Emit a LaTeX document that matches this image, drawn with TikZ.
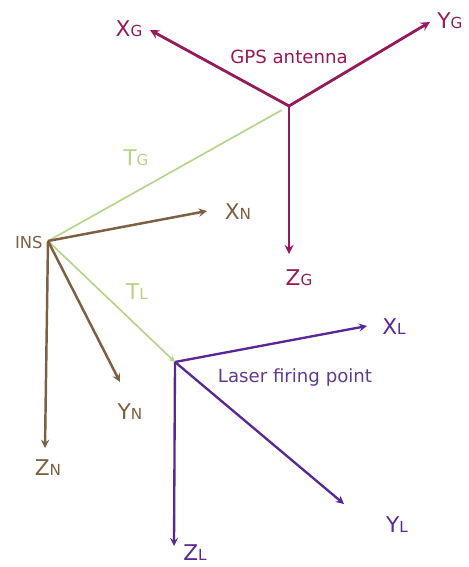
\documentclass[tikz,border=0pt]{standalone}
\usepackage{fontspec}
\setmainfont{DejaVu Sans}
\usetikzlibrary{calc}
\definecolor{gpsred}{RGB}{150,25,90}
\definecolor{insbrown}{RGB}{125,95,65}
\definecolor{laserviolet}{RGB}{90,40,150}
\definecolor{lightgreen}{RGB}{180,212,135}
\newcommand{\axlab}[2]{#1{\fontsize{13}{13}\selectfont #2}}
\tikzset{
  gps/.style={draw=gpsred, line width=2.4pt},
  ins/.style={draw=insbrown, line width=2.1pt},
  laser/.style={draw=laserviolet, line width=2pt},
  lever/.style={draw=lightgreen, line width=1.4pt},
  lab/.style={font=\fontsize{18.5}{18.5}\selectfont, inner sep=1pt}
}
\begin{document}
\begin{tikzpicture}[x=0.03cm, y=-0.03cm, >=stealth]
  \useasboundingbox (0,0) rectangle (468,567);
  % origins
  \coordinate (G) at (289,106);
  \coordinate (I) at (48,241);
  \coordinate (L) at (175,362);
  % axis tips
  \coordinate (xg) at (150,30);
  \coordinate (yg) at (430,22);
  \coordinate (zg) at (289,254);
  \coordinate (xn) at (207,211);
  \coordinate (yn) at (120,382);
  \coordinate (zn) at (45,448);
  \coordinate (xl) at (367,326);
  \coordinate (yl) at (344,504);
  \coordinate (zl) at (174,546);
  % lever arms
  \draw[lever] (I) -- ($(I)!0.97!(G)$);
  \draw[lever,->] (I) -- (L);
  \node[lab, text=lightgreen] (tg) at (136,158) {\axlab{T}{G}};
  \node[lab, text=lightgreen] (tl) at (137,292) {\axlab{T}{L}};
  % GPS antenna
  \draw[gps,->] (G) -- (xg);
  \draw[gps,->] (G) -- (yg);
  \draw[gps,->] (G) -- (zg);
  \node[lab, text=gpsred] (xgl) at (129,29) {\axlab{X}{G}};
  \node[lab, text=gpsred] (ygl) at (450,21) {\axlab{Y}{G}};
  \node[lab, text=gpsred] (zgl) at (299,278) {\axlab{Z}{G}};
  \node[text=gpsred, font=\fontsize{15.5}{15.5}\selectfont] (gpsl) at (289,57) {GPS antenna};
  % INS
  \draw[ins,->] (I) -- (xn);
  \draw[ins,->] (I) -- (yn);
  \draw[ins,->] (I) -- (zn);
  \node[lab, text=insbrown] (xnl) at (238,212) {\axlab{X}{N}};
  \node[lab, text=insbrown] (ynl) at (130,412) {\axlab{Y}{N}};
  \node[lab, text=insbrown] (znl) at (48,468) {\axlab{Z}{N}};
  \node[text=insbrown, font=\fontsize{14}{14}\selectfont, anchor=east, inner sep=1pt] (insl) at (44,243) {INS};
  % laser firing point
  \draw[laser,->] (L) -- (xl);
  \draw[laser,->] (L) -- (yl);
  \draw[laser,->] (L) -- (zl);
  \node[lab, text=laserviolet] (xll) at (394,327) {\axlab{X}{L}};
  \node[lab, text=laserviolet] (yll) at (397,525) {\axlab{Y}{L}};
  \node[lab, text=laserviolet] (zll) at (195,553) {\axlab{Z}{L}};
  \node[text=laserviolet!80!gray, font=\fontsize{15.5}{15.5}\selectfont] (lfp) at (295,377) {Laser firing point};
\end{tikzpicture}
\end{document}
